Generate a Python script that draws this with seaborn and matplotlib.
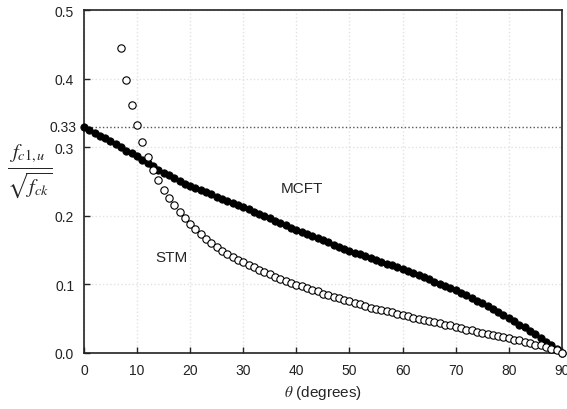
import numpy as np
import pandas as pd
import matplotlib
matplotlib.use("Agg")
import matplotlib.pyplot as plt
import seaborn as sns

# theta in degrees
theta_mcft = list(range(0, 91))
mcft = [0.330, 0.3255, 0.321, 0.317, 0.313, 0.309, 0.304, 0.300, 0.295, 0.291,
        0.287, 0.282, 0.277, 0.272, 0.267, 0.263, 0.259, 0.255, 0.251, 0.247,
        0.244, 0.240, 0.237, 0.234, 0.231, 0.228, 0.225, 0.222, 0.219, 0.216,
        0.213, 0.210, 0.206, 0.203, 0.200, 0.196, 0.193, 0.189, 0.186, 0.182,
        0.179, 0.176, 0.173, 0.170, 0.167, 0.164, 0.161, 0.158, 0.155, 0.152,
        0.149, 0.146, 0.144, 0.141, 0.139, 0.136, 0.133, 0.130, 0.128, 0.125,
        0.122, 0.119, 0.116, 0.113, 0.110, 0.107, 0.104, 0.101, 0.098, 0.094,
        0.091, 0.087, 0.084, 0.080, 0.076, 0.072, 0.068, 0.064, 0.060, 0.055,
        0.051, 0.046, 0.041, 0.037, 0.032, 0.027, 0.022, 0.016, 0.011, 0.005,
        0.000]

theta_stm = list(range(7, 91))
stm = [0.444, 0.398, 0.362, 0.332, 0.307, 0.286, 0.267, 0.252, 0.238, 0.226,
       0.215, 0.205, 0.196, 0.188, 0.180, 0.173, 0.166, 0.160, 0.154, 0.149,
       0.144, 0.140, 0.136, 0.132, 0.128, 0.125, 0.121, 0.118, 0.115, 0.111,
       0.108, 0.105, 0.102, 0.099, 0.097, 0.095, 0.092, 0.090, 0.086, 0.084,
       0.082, 0.080, 0.077, 0.075, 0.073, 0.071, 0.069, 0.066, 0.064, 0.062,
       0.061, 0.059, 0.057, 0.055, 0.053, 0.051, 0.050, 0.048, 0.046, 0.045,
       0.043, 0.041, 0.040, 0.038, 0.036, 0.034, 0.033, 0.031, 0.029, 0.028,
       0.026, 0.024, 0.023, 0.021, 0.019, 0.018, 0.016, 0.014, 0.012, 0.011,
       0.009, 0.006, 0.004, 0.000]

x_ticks = [0, 10, 20, 30, 40, 50, 60, 70, 80, 90]
y_ticks = [0.0, 0.1, 0.2, 0.3, 0.4, 0.5]

mcft_df = pd.DataFrame({"theta": theta_mcft, "value": mcft})
stm_df = pd.DataFrame({"theta": theta_stm, "value": stm})

sns.set_style("ticks")
plt.rcParams['font.family'] = ['Liberation Sans', 'DejaVu Sans']
plt.rcParams['mathtext.fontset'] = 'stix'

fig = plt.figure(figsize=(5.67, 4.10), dpi=100)
ax = fig.add_axes([0.148, 0.137, 0.843, 0.836])

ax.grid(True, color='#e2e2e2', linestyle=':', linewidth=1.0)
ax.axhline(0.33, color='#555555', linestyle=':', linewidth=1.0, zorder=1)

sns.scatterplot(data=mcft_df, x="theta", y="value", ax=ax, color='black',
                edgecolor='black', s=28, linewidth=0.6, zorder=3, clip_on=False)
sns.scatterplot(data=stm_df, x="theta", y="value", ax=ax, color='white',
                edgecolor='black', s=28, linewidth=0.8, zorder=4, clip_on=False)

ax.set_xlim(0, 90)
ax.set_ylim(0, 0.5)
ax.set_xticks(x_ticks)
ax.set_yticks(y_ticks)
ax.set_yticklabels([f"{v:.1f}" for v in y_ticks])
ax.tick_params(direction='in', length=4, width=1, labelsize=10, colors='#222222',
               pad=7)
for sp in ax.spines.values():
    sp.set_linewidth(1.2)
    sp.set_color('#222222')

ax.text(-0.015, 0.33, "0.33", transform=ax.get_yaxis_transform(),
        ha='right', va='center', fontsize=10, color='#222222')

ax.set_xlabel(r"$\theta$ (degrees)", fontsize=11, labelpad=5)
ax.set_ylabel("")
ax.text(-0.113, 0.53, r"$\frac{f_{c1,u}}{\sqrt{f_{ck}}}$", transform=ax.transAxes,
        ha='center', va='center', fontsize=21)

ax.text(41, 0.24, "MCFT", ha='center', va='center', fontsize=11)
ax.text(16.5, 0.14, "STM", ha='center', va='center', fontsize=11)

fig.savefig("out.png", dpi=100)
